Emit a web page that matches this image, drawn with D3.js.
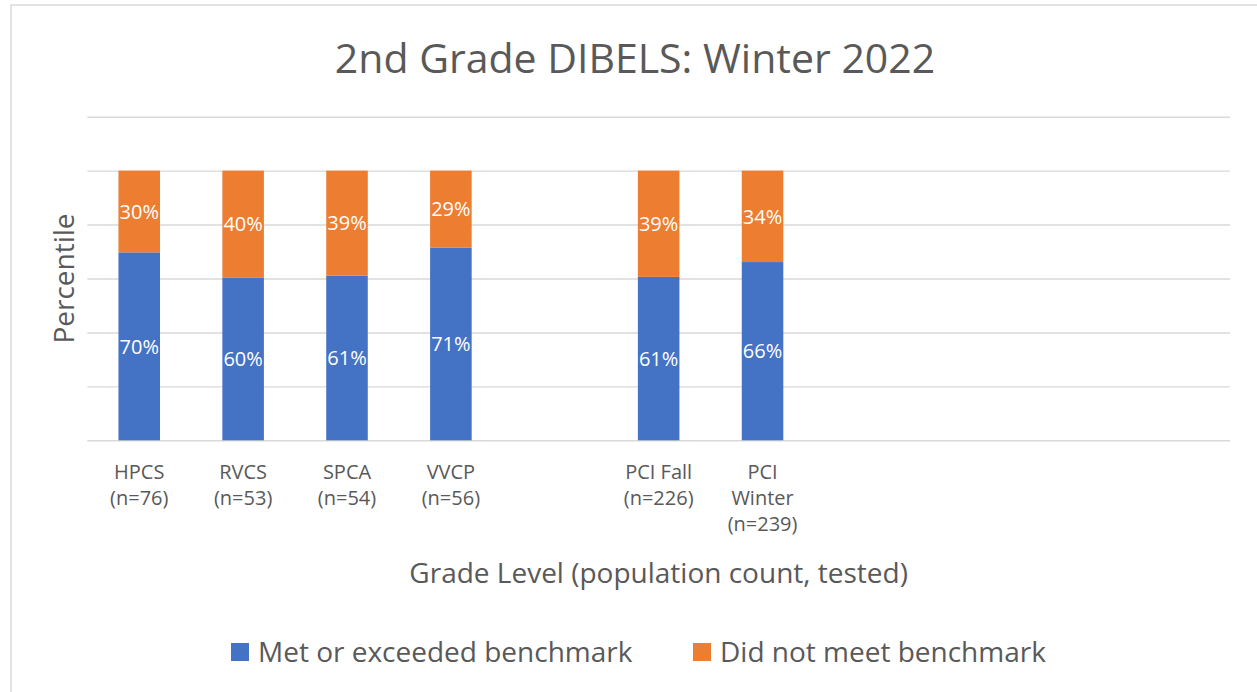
<!DOCTYPE html>
<html>
<head>
<meta charset="utf-8">
<script src="https://cdn.jsdelivr.net/npm/d3@7/dist/d3.min.js"></script>
<style>
  html, body { margin: 0; padding: 0; background: #fff; }
  svg { display: block; }
  text { font-family: "Open Sans", "Noto Sans", sans-serif; }
</style>
</head>
<body>
<svg id="chart" width="1257" height="692"></svg>
<script>
// ---- data ----
const title = "2nd Grade DIBELS: Winter 2022";
const xAxisTitle = "Grade Level (population count, tested)";
const yAxisTitle = "Percentile";
const categories = ["HPCS (n=76)", "RVCS (n=53)", "SPCA (n=54)", "VVCP (n=56)", "",
                    "PCI Fall (n=226)", "PCI Winter (n=239)", "", "", "", ""];
const metBenchmark    = [69.7, 60.4, 61.1, 71.4, null, 60.6, 66.1, null, null, null, null];
const notMetBenchmark = [30.3, 39.6, 38.9, 28.6, null, 39.4, 33.9, null, null, null, null];
const seriesNames = ["Met or exceeded benchmark", "Did not meet benchmark"];
const yTicks = [0, 20, 40, 60, 80, 100, 120];

// ---- layout ----
const svg = d3.select("#chart");
const colors = ["#4472C4", "#ED7D31"];
const textGray = "#595959";
const gridGray = "#d9d9d9";
const plot = { left: 87.3, right: 1230, top: 116.7, bottom: 440.3 };

// chart border
svg.append("rect").attr("x", 11).attr("y", 5).attr("width", 1300).attr("height", 720)
  .attr("fill", "#fff").attr("stroke", gridGray).attr("stroke-width", 1.5);

const idx = categories.map((d, i) => i);
const x = d3.scaleBand().domain(idx).range([plot.left, plot.right]).paddingInner(0.6).paddingOuter(0.3);
const y = d3.scaleLinear().domain([0, 120]).range([plot.bottom, plot.top]);

// gridlines via axis
const yAxis = d3.axisLeft(y).tickValues(yTicks).tickSize(-(plot.right - plot.left)).tickFormat("");
const gy = svg.append("g").attr("transform", `translate(${plot.left},0)`).call(yAxis);
gy.select(".domain").remove();
gy.selectAll(".tick line").attr("stroke", gridGray).attr("stroke-width", 1.4);

// stacked data
const rows = idx.map(i => ({ i, met: metBenchmark[i], not: notMetBenchmark[i] }))
  .filter(r => r.met != null);
const stack = d3.stack().keys(["met", "not"]);
const stacked = stack(rows);

const layers = svg.append("g").selectAll("g").data(stacked).join("g")
  .attr("fill", (d, k) => colors[k]);
layers.selectAll("rect").data(d => d).join("rect")
  .attr("x", d => x(d.data.i))
  .attr("width", x.bandwidth())
  .attr("y", d => y(d[1]))
  .attr("height", d => y(d[0]) - y(d[1]));

// data labels
const lab = svg.append("g");
stacked.forEach(layer => {
  layer.forEach(d => {
    lab.append("text")
      .attr("x", x(d.data.i) + x.bandwidth() / 2)
      .attr("y", (y(d[0]) + y(d[1])) / 2)
      .attr("dy", "0.36em")
      .attr("text-anchor", "middle")
      .attr("fill", "#fff")
      .attr("font-size", 20)
      .text(Math.round(d[1] - d[0]) + "%");
  });
});

// x axis category labels with wrap
const xAxis = d3.axisBottom(x).tickSize(0).tickFormat(i => categories[i]);
const gx = svg.append("g").attr("transform", `translate(0,${plot.bottom})`).call(xAxis);
gx.select(".domain").remove();
gx.selectAll(".tick text")
  .attr("fill", textGray).attr("font-size", 20).attr("y", 0).attr("dy", 0)
  .each(function(i) {
    const t = d3.select(this);
    const words = categories[i].split(" ").filter(w => w);
    t.text(null);
    const maxW = 86;
    let lines = [], cur = [];
    const probe = t.append("tspan");
    words.forEach(w => {
      const test = cur.concat([w]).join(" ");
      probe.text(test);
      if (probe.node().getComputedTextLength() > maxW && cur.length) {
        lines.push(cur.join(" "));
        cur = [w];
      } else cur.push(w);
    });
    if (cur.length) lines.push(cur.join(" "));
    probe.remove();
    lines.forEach((ln, k) => {
      t.append("tspan").attr("x", 0).attr("y", 39 + k * 26).text(ln);
    });
  });

// axis titles
svg.append("text").attr("x", (plot.left + plot.right) / 2).attr("y", 583)
  .attr("text-anchor", "middle").attr("fill", textGray).attr("font-size", 28).text(xAxisTitle);
svg.append("text").attr("transform", `translate(74,${(plot.top + plot.bottom) / 2}) rotate(-90)`)
  .attr("text-anchor", "middle").attr("fill", textGray).attr("font-size", 28).text(yAxisTitle);

// title
svg.append("text").attr("x", 635).attr("y", 73)
  .attr("text-anchor", "middle").attr("fill", textGray).attr("font-size", 41).text(title);

// legend
const legendX = [231, 693];
const leg = svg.append("g").selectAll("g").data(seriesNames).join("g")
  .attr("transform", (d, k) => `translate(${legendX[k]},643)`);
leg.append("rect").attr("width", 18).attr("height", 18).attr("fill", (d, k) => colors[k]);
leg.append("text").attr("x", 27).attr("y", 18.5).attr("fill", textGray).attr("font-size", 28).text(d => d);
</script>
</body>
</html>
